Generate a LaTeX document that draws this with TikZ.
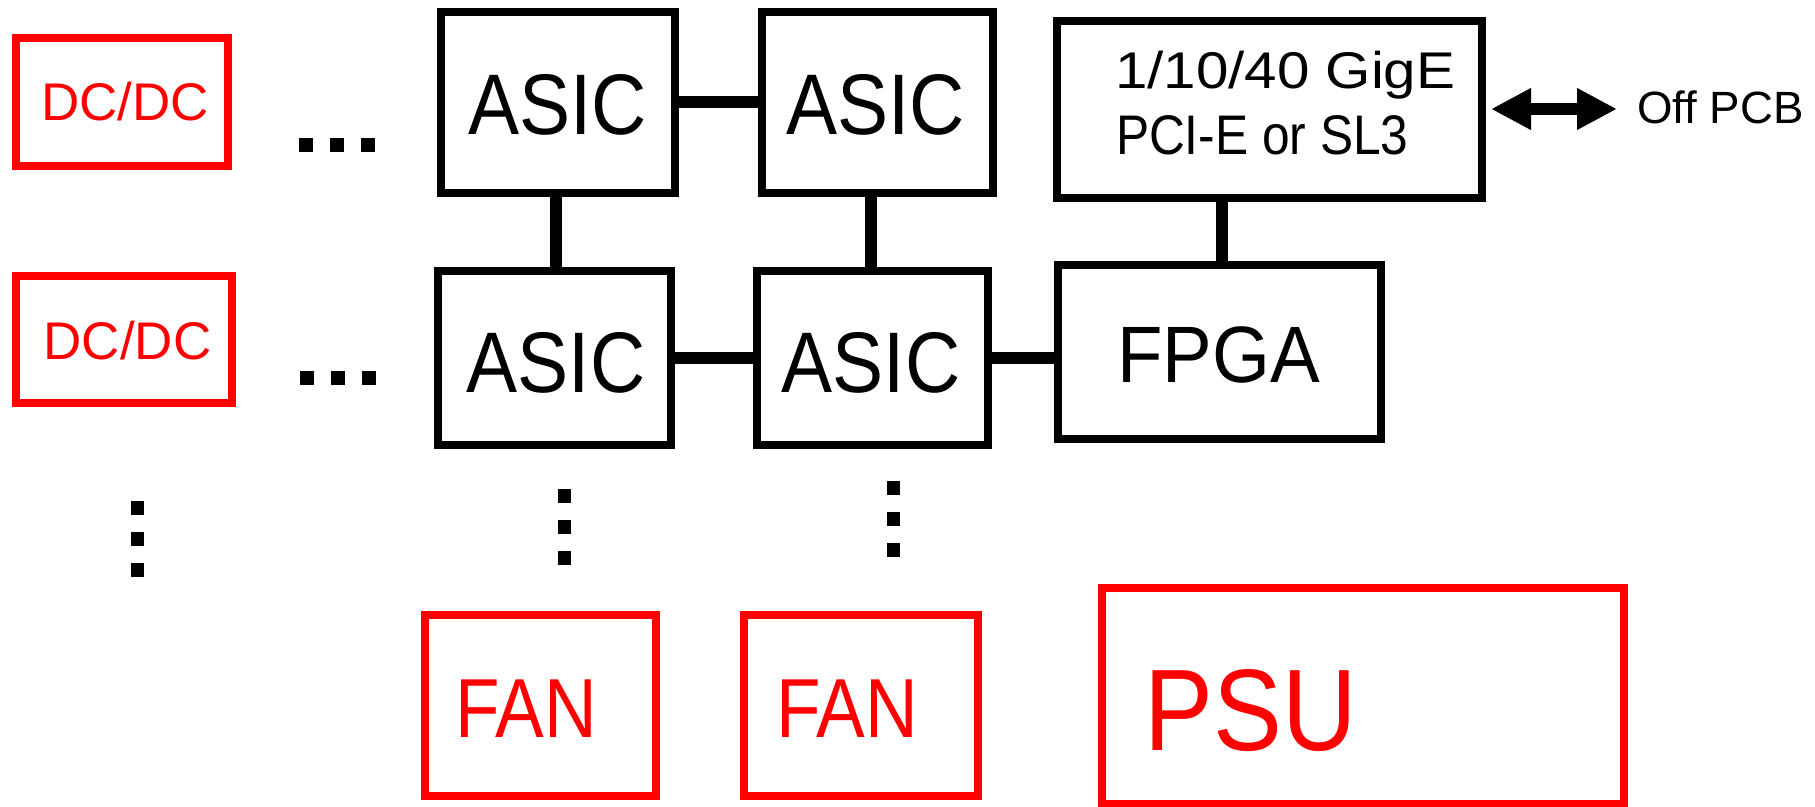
\documentclass[tikz,border=0pt]{standalone}
\usepackage{fontspec}
\setmainfont{Liberation Sans}
\usetikzlibrary{arrows.meta}
\definecolor{pcbred}{RGB}{255,0,0}
\newcommand{\sizedtxt}[3]{\scalebox{#2}[1]{\fontsize{#1}{#1}\selectfont #3}}
\begin{document}
\begin{tikzpicture}[x=0.5pt,y=-0.5pt,
  blkbox/.style={draw=black, line width=4pt, inner sep=0pt, outer sep=0pt, rectangle},
  redbox/.style={draw=pcbred, line width=4pt, inner sep=0pt, outer sep=0pt, rectangle},
  lbl/.style={inner sep=0pt, outer sep=0pt},
  redlbl/.style={lbl, text=pcbred},
  conn/.style={draw=black, line width=6pt},
  dotsq/.style={fill=black}]
\useasboundingbox (0,0) rectangle (1815,807);

% boxes
\node[redbox, minimum width=106pt, minimum height=64pt] (dc1) at (121.5,102) {};
\node[redbox, minimum width=108pt, minimum height=63.5pt] (dc2) at (124,339.5) {};
\node[blkbox, minimum width=117pt, minimum height=90.5pt] (tl) at (558,102.5) {};
\node[blkbox, minimum width=115.5pt, minimum height=90.5pt] (tr) at (877.5,102.5) {};
\node[blkbox, minimum width=116.5pt, minimum height=87pt] (bl) at (554.5,358) {};
\node[blkbox, minimum width=115.5pt, minimum height=87pt] (br) at (872.5,358) {};
\node[blkbox, minimum width=212.5pt, minimum height=88.5pt] (gige) at (1269.5,109.5) {};
\node[blkbox, minimum width=161.5pt, minimum height=87pt] (fpga) at (1219.5,352) {};
\node[redbox, minimum width=115.5pt, minimum height=90.5pt] (fan1) at (540.5,705.5) {};
\node[redbox, minimum width=117pt, minimum height=90.5pt] (fan2) at (861,705.5) {};
\node[redbox, minimum width=261pt, minimum height=108pt] (psu) at (1363,696) {};

% texts
\node[redlbl, anchor=base] (dc1t) at (125,121) {\sizedtxt{26.5pt}{1}{DC/DC}};
\node[redlbl, anchor=base] (dc2t) at (127.5,360) {\sizedtxt{26.5pt}{1}{DC/DC}};
\node[lbl, anchor=base] (tlt) at (557.5,135) {\sizedtxt{43pt}{0.89}{ASIC}};
\node[lbl, anchor=base] (trt) at (875.5,135) {\sizedtxt{43pt}{0.89}{ASIC}};
\node[lbl, anchor=base] (blt) at (556,393) {\sizedtxt{43pt}{0.89}{ASIC}};
\node[lbl, anchor=base] (brt) at (871,393) {\sizedtxt{43pt}{0.89}{ASIC}};
\node[lbl, anchor=base] (fpgat) at (1218.5,383) {\sizedtxt{40pt}{0.93}{FPGA}};
\node[lbl, anchor=base west] (gige1) at (1115,89) {\sizedtxt{25.8pt}{1.13}{1/10/40 GigE}};
\node[lbl, anchor=base west] (gige2) at (1116,155) {\sizedtxt{27.9pt}{0.89}{PCI-E or SL3}};
\node[lbl, anchor=base west] (offpcb) at (1637,124) {\sizedtxt{22.6pt}{1.01}{Off PCB}};
\node[redlbl, anchor=base] (fan1t) at (526,737) {\sizedtxt{41.9pt}{0.87}{FAN}};
\node[redlbl, anchor=base] (fan2t) at (847,737) {\sizedtxt{41.9pt}{0.87}{FAN}};
\node[redlbl, anchor=base] (psut) at (1251,750) {\sizedtxt{58pt}{0.89}{PSU}};

% connectors
\draw[conn] (tl.east) -- (tr.west);
\draw[conn] ([xshift=-1pt]tl.south) -- ([xshift=-1pt]tl.south |- bl.north);
\draw[conn] ([xshift=-1pt]br.north) -- ([xshift=-1pt]br.north |- tr.south);
\draw[conn] (bl.east) -- (br.west);
\draw[conn] (br.east) -- (br.east -| fpga.west);
\draw[conn] ([xshift=1pt]fpga.north) -- ([xshift=1pt]fpga.north |- gige.south);

\coordinate (offL) at (1491,109);
\coordinate (offR) at (1617,109);
\draw[line width=6pt, {Triangle[length=20pt,width=19.5pt]}-{Triangle[length=20pt,width=19.5pt]}] (offL) -- (offR);

% ellipsis dots
\foreach \x in {306,337,368} {
  \fill[dotsq] (\x-6.7,145-7) rectangle +(13.4,14);
  \fill[dotsq] (\x+1-6.7,378-7) rectangle +(13.4,14);
}
\foreach \y in {508,539,570} \fill[dotsq] (137-6.5,\y-7) rectangle +(13,14);
\foreach \y in {496,527,558} \fill[dotsq] (564-6.5,\y-7) rectangle +(13,14);
\foreach \y in {488,519,550} \fill[dotsq] (893-6.5,\y-7) rectangle +(13,14);
\end{tikzpicture}
\end{document}
